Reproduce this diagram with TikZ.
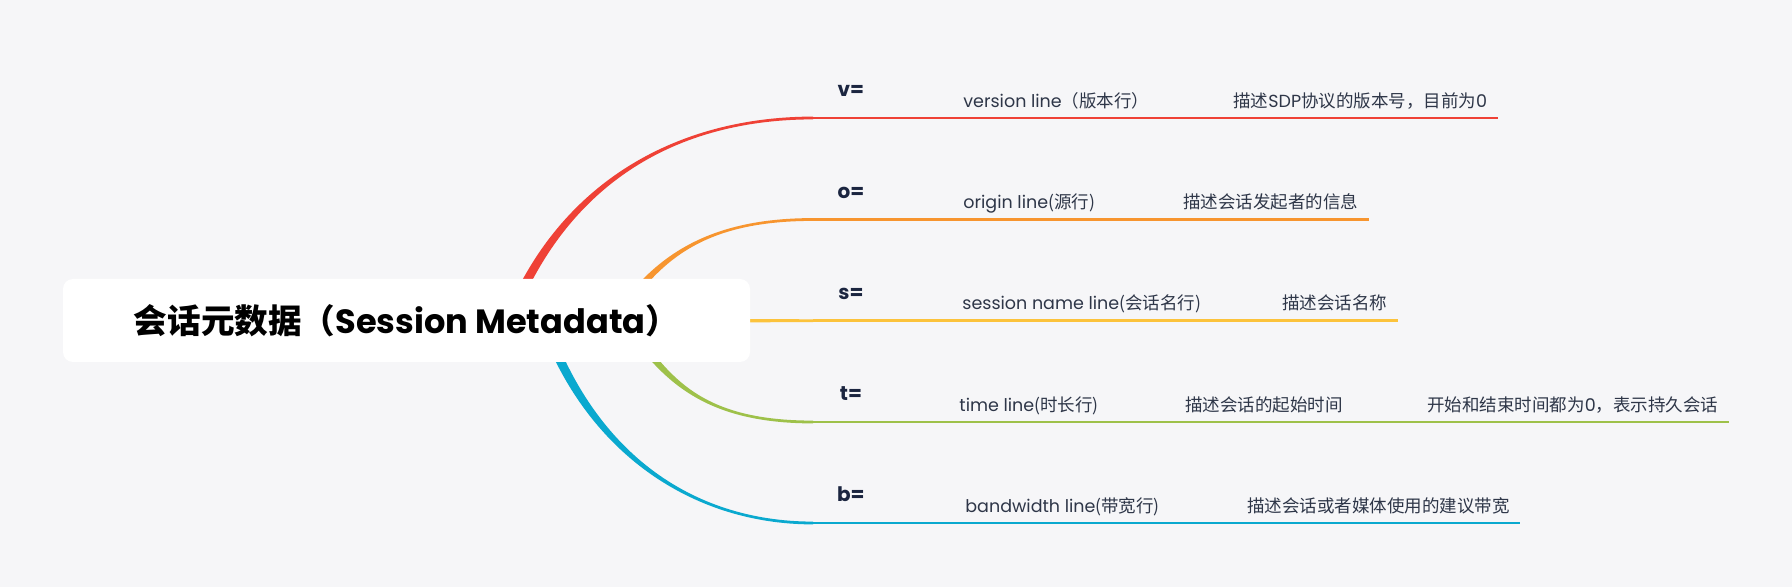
\documentclass[tikz,border=0pt]{standalone}
\usepackage{fontspec}
\setmainfont{Poppins}
\newfontfamily\cjk{Noto Sans CJK SC}
\definecolor{bg}{HTML}{F6F6F8}
\definecolor{cred}{HTML}{EF4136}
\definecolor{corange}{HTML}{F7952F}
\definecolor{cyellow}{HTML}{FCC33C}
\definecolor{cgreen}{HTML}{9EC14A}
\definecolor{cblue}{HTML}{0AA9CF}
\definecolor{ink}{HTML}{1B2540}
\definecolor{greyink}{HTML}{2E3648}

\begin{document}
\begin{tikzpicture}[x=0.5pt,y=-0.5pt]

      \tikzset{key/.style={inner xsep=0pt, inner ysep=10.5pt, text depth=0pt, minimum width=37.5pt, anchor=south west, text=ink, font=\bfseries\fontsize{10}{12}\selectfont}}
      \tikzset{item/.style={inner xsep=5pt, inner ysep=5.2pt, text depth=0pt, anchor=south west, text=greyink, font=\fontsize{8.75}{10.5}\selectfont}}
      \tikzset{root/.style={fill=white, rounded corners=5pt, minimum width=343.5pt, minimum height=41.5pt, inner sep=0pt, text=black, font=\fontsize{16.8}{20}\selectfont}}
      \tikzset{row/.style={line width=1.2pt}}

      \fill[bg] (0,0) rectangle (1792,587);
%% Start points behind the root
      	\coordinate (rv) at (505,330);
      	\coordinate (ro) at (615,320);
      	\coordinate (rs) at (700,320.7);
      	\coordinate (rt) at (625,320);
      	\coordinate (rb) at (540,310);
%% Topics
      	\node[key] (v) at (813,118) {v=};
      	\node[item] (vver) at (953,118) {version line{\cjk （版本行）}};
      	\node[item] (vdesc) at (1223,118) {{\cjk 描述}SDP{\cjk 协议的版本号，目前为}0};
      	\node[key] (o) at (813,219.5) {o=};
      	\node[item] (oorig) at (953,219.5) {origin line{\cjk (源行)}};
      	\node[item] (odesc) at (1173,219.5) {{\cjk 描述会话发起者的信息}};
      	\node[key] (s) at (813,320.7) {s=};
      	\node[item] (sname) at (952,320.7) {session name line{\cjk (会话名行)}};
      	\node[item] (sdesc) at (1272,320.7) {{\cjk 描述会话名称}};
      	\node[key] (t) at (813,422) {t=};
      	\node[item] (ttime) at (949,422) {time line{\cjk (时长行)}};
      	\node[item] (tdesc) at (1175,422) {{\cjk 描述会话的起始时间}};
      	\node[item] (tzero) at (1417,422) {{\cjk 开始和结束时间都为}0{\cjk ，表示持久会话}};
      	\node[key] (b) at (813,523) {b=};
      	\node[item] (bband) at (955,523) {bandwidth line{\cjk (带宽行)}};
      	\node[item] (bdesc) at (1237,523) {{\cjk 描述会话或者媒体使用的建议带宽}};
%Underlines
		\draw[row, cred] (v.south west) -- (v.south east) -- (vver.south west) -- (vver.south east) -- (vdesc.south west) -- (vdesc.south east);
		\draw[row, corange] (o.south west) -- (o.south east) -- (oorig.south west) -- (oorig.south east) -- (odesc.south west) -- (odesc.south east);
		\draw[row, cyellow] (s.south west) -- (s.south east) -- (sname.south west) -- (sname.south east) -- (sdesc.south west) -- (sdesc.south east);
		\draw[row, cgreen] (t.south west) -- (t.south east) -- (ttime.south west) -- (ttime.south east) -- (tdesc.south west) -- (tdesc.south east) -- (tzero.south west) -- (tzero.south east);
		\draw[row, cblue] (b.south west) -- (b.south east) -- (bband.south west) -- (bband.south east) -- (bdesc.south west) -- (bdesc.south east);
%Branches
		\fill[cred] ([xshift=-2.6pt]rv) .. controls +(55,-150) and +(-133,0) .. ([yshift=0.7pt]v.south west) -- ([yshift=-0.7pt]v.south west) .. controls +(-133,0) and +(55,-150) .. ([xshift=2.6pt]rv) -- cycle;
		\fill[corange] ([xshift=-2.4pt]ro) .. controls +(40,-60) and +(-110,0) .. ([yshift=0.7pt]o.south west) -- ([yshift=-0.7pt]o.south west) .. controls +(-110,0) and +(40,-60) .. ([xshift=2.4pt]ro) -- cycle;
		\fill[cyellow] ([yshift=-0.9pt]rs) -- ([yshift=0.9pt]rs) -- ([yshift=0.7pt]s.south west) -- ([yshift=-0.7pt]s.south west) -- cycle;
		\fill[cgreen] ([xshift=-2.4pt]rt) .. controls +(40,60) and +(-110,0) .. ([yshift=-0.7pt]t.south west) -- ([yshift=0.7pt]t.south west) .. controls +(-110,0) and +(40,60) .. ([xshift=2.4pt]rt) -- cycle;
		\fill[cblue] ([xshift=-2.6pt]rb) .. controls +(45,140) and +(-123,0) .. ([yshift=-0.7pt]b.south west) -- ([yshift=0.7pt]b.south west) .. controls +(-123,0) and +(45,140) .. ([xshift=2.6pt]rb) -- cycle;
%% Root
      	\node[root] (meta) at (406.5,320.5) {{\cjk\bfseries 会话元数据（}{\bfseries Session Metadata}{\cjk\bfseries ）}\hspace{5.8pt}};

\end{tikzpicture}
\end{document}
